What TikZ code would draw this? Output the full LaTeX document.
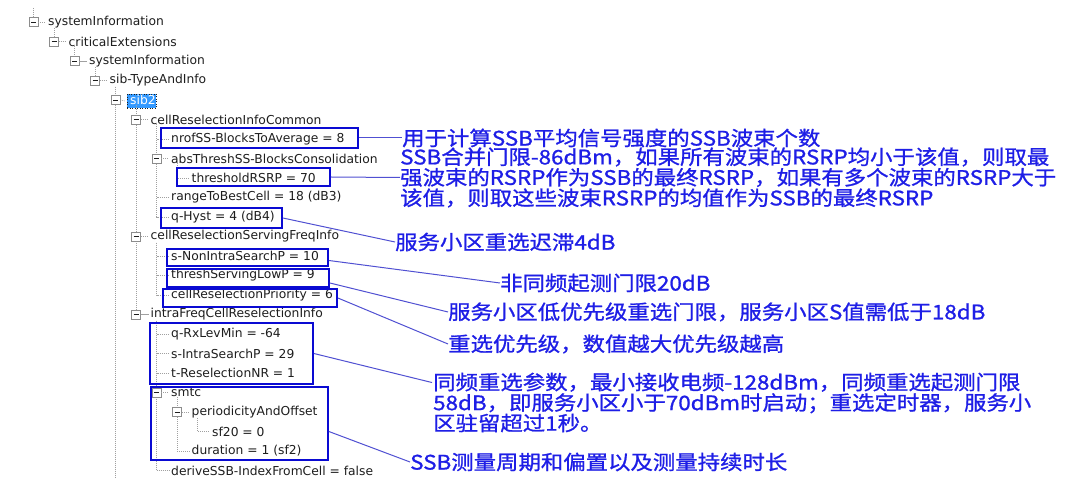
\documentclass[tikz,border=0pt]{standalone}
\usepackage{fontspec}
\usetikzlibrary{positioning, calc}
\newfontfamily\treefont{DejaVu Sans}
\newfontfamily\notefont[FakeStretch=1.12, FakeBold=1]{Noto Sans CJK SC}
\definecolor{annBlue}{HTML}{1E1EE6}
\definecolor{boxBlue}{HTML}{0A0AD2}
\definecolor{lineBlue}{HTML}{5050D2}
\definecolor{selBlue}{HTML}{3399FF}
\definecolor{treeText}{HTML}{1E1E1E}
\definecolor{guideGray}{HTML}{A0A0A0}
\definecolor{expGray}{HTML}{8C8C8C}

\begin{document}
\begin{tikzpicture}[
    x=1pt, y=-1pt,
    row/.style={
        anchor=west, inner sep=0pt, text=treeText,
        font=\treefont\fontsize{12.3}{14}\selectfont
    },
    expbox/.style={
        draw=expGray, fill=white, line width=0.6pt, minimum size=9pt, inner sep=0pt,
        path picture={\draw[treeText, line width=0.7pt]
            ([xshift=-2.5pt]path picture bounding box.center) -- ([xshift=2.5pt]path picture bounding box.center);}
    },
    guide/.style={draw=guideGray, line width=0.6pt, dash pattern=on 1pt off 1pt},
    selbox/.style={fill=selBlue, draw=treeText, dotted, line width=0.5pt, inner sep=0pt},
    hlbox/.style={draw=boxBlue, line width=1.8pt, inner sep=0pt},
    note/.style={
        anchor=west, inner sep=0pt, align=left, text=annBlue,
        font=\notefont\fontsize{20}{20.5}\selectfont
    },
    link/.style={draw=lineBlue, line width=1pt}
]
\useasboundingbox (0,0) rectangle (1080,494);
\fill[white] (0,0) rectangle (1080,494);

% === Tree rows ===
\node[selbox, minimum width=29pt, minimum height=14pt] (sel) at (141.5,101) {};
\node[row] (t00) at (48,22) {systemInformation};
\node[row] (t01) at (68.5,41.5) {criticalExtensions};
\node[row] (t02) at (89,61) {systemInformation};
\node[row] (t03) at (109.5,80.5) {sib-TypeAndInfo};
\node[row, text=white] (t04) at (130,100) {sib2};
\node[row] (t05) at (150.5,119.5) {cellReselectionInfoCommon};
\node[row] (t06) at (171,139) {nrofSS-BlocksToAverage = 8};
\node[row] (t07) at (171,158.5) {absThreshSS-BlocksConsolidation};
\node[row] (t08) at (191.5,178) {thresholdRSRP = 70};
\node[row] (t09) at (171,197.5) {rangeToBestCell = 18 (dB3)};
\node[row] (t10) at (171,217) {q-Hyst = 4 (dB4)};
\node[row] (t11) at (150.5,236.5) {cellReselectionServingFreqInfo};
\node[row] (t12) at (171,256) {s-NonIntraSearchP = 10};
\node[row] (t13) at (171,275.5) {threshServingLowP = 9};
\node[row] (t14) at (171,295) {cellReselectionPriority = 6};
\node[row] (t15) at (150.5,314.5) {intraFreqCellReselectionInfo};
\node[row] (t16) at (171,334) {q-RxLevMin = -64};
\node[row] (t17) at (171,353.5) {s-IntraSearchP = 29};
\node[row] (t18) at (171,373) {t-ReselectionNR = 1};
\node[row] (t19) at (171,392.5) {smtc};
\node[row] (t20) at (191.5,412) {periodicityAndOffset};
\node[row] (t21) at (212,431.5) {sf20 = 0};
\node[row] (t22) at (191.5,451) {duration = 1 (sf2)};
\node[row] (t23) at (171,470.5) {deriveSSB-IndexFromCell = false};

% === Dotted guide lines ===
\coordinate (top) at (33.5,8);
\coordinate (tail) at (115.5,478);
\draw[guide] ([xshift=6pt]t00.south west) |- ([xshift=-2pt]t01.west);
\draw[guide] ([xshift=6pt]t01.south west) |- ([xshift=-2pt]t02.west);
\draw[guide] ([xshift=6pt]t02.south west) |- ([xshift=-2pt]t03.west);
\draw[guide] ([xshift=6pt]t03.south west) -- (tail);
\draw[guide] ([xshift=6pt]t04.south west) |- ([xshift=-2pt]t15.west);
\draw[guide] ([xshift=6pt]t05.south west) |- ([xshift=-2pt]t10.west);
\draw[guide] ([xshift=6pt]t07.south west) |- ([xshift=-2pt]t08.west);
\draw[guide] ([xshift=6pt]t11.south west) |- ([xshift=-2pt]t14.west);
\draw[guide] ([xshift=6pt]t15.south west) |- ([xshift=-2pt]t23.west);
\draw[guide] ([xshift=6pt]t19.south west) |- ([xshift=-2pt]t22.west);
\draw[guide] ([xshift=6pt]t20.south west) |- ([xshift=-2pt]t21.west);
\foreach \leaf in {t06,t09,t12,t13,t16,t17,t18}
    \draw[guide] ([xshift=-2pt]\leaf.west) -- ++(-12.5,0);

% === Expander boxes ===
\node[expbox] (x00) at (33.5,22) {};
\node[expbox] (x01) at (54,41.5) {};
\node[expbox] (x02) at (74.5,61) {};
\node[expbox] (x03) at (95,80.5) {};
\node[expbox] (x04) at (115.5,100) {};
\node[expbox] (x05) at (136,119.5) {};
\node[expbox] (x07) at (156.5,158.5) {};
\node[expbox] (x11) at (136,236.5) {};
\node[expbox] (x15) at (136,314.5) {};
\node[expbox] (x19) at (156.5,392.5) {};
\node[expbox] (x20) at (177,412) {};
\draw[guide] (top) -- (x00.north);
\foreach \e/\t in {x00/t00,x01/t01,x02/t02,x03/t03,x04/sel,x05/t05,x07/t07,x11/t11,x15/t15,x19/t19,x20/t20}
    \draw[guide] (\e.east) -- ([xshift=-2pt]\t.west);

% === Highlight boxes ===
\node[hlbox, minimum width=197pt, minimum height=20pt] (hb_nrof) at (259.5,138) {};
\node[hlbox, minimum width=153pt, minimum height=18pt] (hb_thr) at (253.5,177) {};
\node[hlbox, minimum width=121pt, minimum height=20pt] (hb_qhyst) at (221.5,218) {};
\node[hlbox, minimum width=161pt, minimum height=17pt] (hb_snon) at (247.5,257.5) {};
\node[hlbox, minimum width=162pt, minimum height=18pt] (hb_thsv) at (248,278) {};
\node[hlbox, minimum width=174pt, minimum height=18pt] (hb_prio) at (250,298) {};
\node[hlbox, minimum width=163pt, minimum height=61pt] (hb_intra) at (231.5,353.5) {};
\node[hlbox, minimum width=177pt, minimum height=73pt] (hb_smtc) at (239.5,423.5) {};

% === Notes ===
\node[note] (n_nrof) at (402,138) {用于计算SSB平均信号强度的SSB波束个数};
\node[note] (n_thr) at (400,177.5) {SSB合并门限-86dBm，如果所有波束的RSRP均小于该值，则取最\\
    强波束的RSRP作为SSB的最终RSRP，如果有多个波束的RSRP大于\\
    该值，则取这些波束RSRP的均值作为SSB的最终RSRP};
\node[note] (n_qhyst) at (395,242) {服务小区重选迟滞4dB};
\node[note] (n_snon) at (500,283) {非同频起测门限20dB};
\node[note] (n_thsv) at (448,312) {服务小区低优先级重选门限，服务小区S值需低于18dB};
\node[note] (n_prio) at (448,344) {重选优先级，数值越大优先级越高};
\node[note] (n_intra) at (433,402.5) {同频重选参数，最小接收电频-128dBm，同频重选起测门限\\
    58dB，即服务小区小于70dBm时启动；重选定时器，服务小\\
    区驻留超过1秒。};
\node[note] (n_smtc) at (410,462) {SSB测量周期和偏置以及测量持续时长};
\coordinate (intra_end) at ($(n_intra.north west)+(-1,10)$);

% === Links ===
\draw[link] (hb_nrof.east) -- (n_nrof.west);
\draw[link] (hb_thr.east) -- (n_thr.west);
\draw[link] (hb_qhyst.east) -- (n_qhyst.west);
\draw[link] ([yshift=-3pt]hb_snon.east) -- (n_snon.west);
\draw[link] ([yshift=-5pt]hb_thsv.east) -- (n_thsv.west);
\draw[link] (hb_prio.east) -- (n_prio.west);
\draw[link] (hb_intra.east) -- (intra_end);
\draw[link] ([yshift=-8pt]hb_smtc.east) -- (n_smtc.west);

\end{tikzpicture}
\end{document}
